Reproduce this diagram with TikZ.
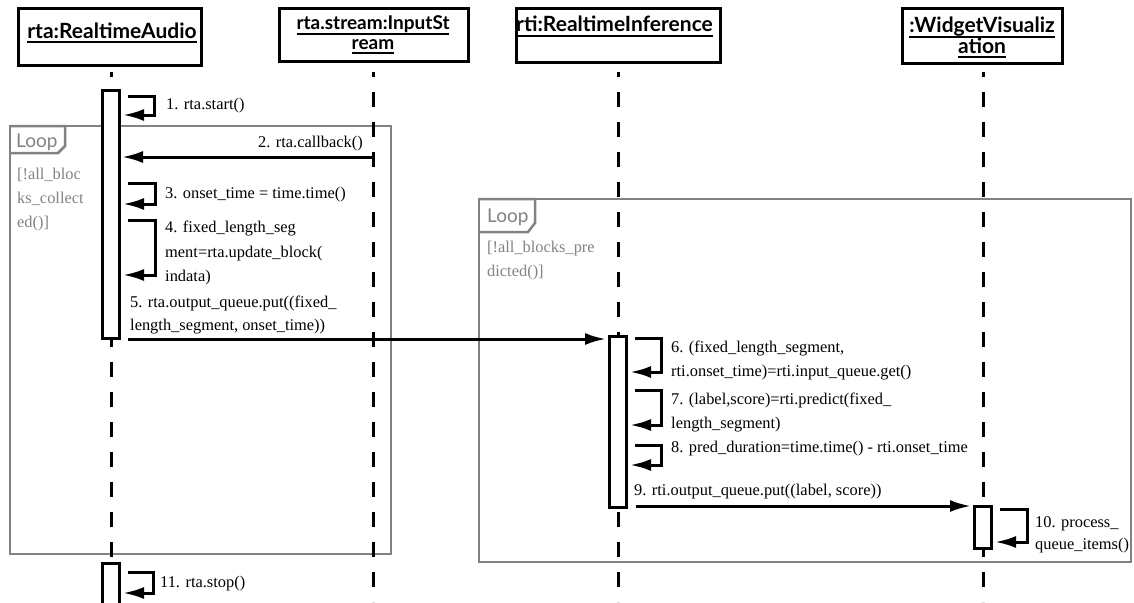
\documentclass[tikz,border=0pt]{standalone}
\usepackage{fontspec}
\setmainfont{Liberation Serif}
\newfontfamily\msgfont{Liberation Serif}
\newfontfamily\latofont{Lato}
\usetikzlibrary{arrows.meta}
\definecolor{framegray}{RGB}{130,130,130}
\newsavebox{\ulbox}
\newcommand{\hdrline}[1]{\sbox{\ulbox}{#1}\rlap{\rule[-5pt]{\wd\ulbox}{1.8pt}}\usebox{\ulbox}}
\begin{document}
\begin{tikzpicture}[x=1pt,y=-1pt,
  hdrbox/.style={draw,line width=3pt,fill=white,inner sep=0pt},
  hdrtxt/.style={font=\latofont\bfseries\fontsize{21}{24}\selectfont,anchor=base,inner sep=0pt},
  hdrsmall/.style={font=\latofont\bfseries\fontsize{19}{22}\selectfont},
  actbar/.style={draw,line width=3pt,fill=white,inner sep=0pt,minimum width=17pt},
  lifeline/.style={line width=3pt,dash pattern=on 15pt off 15pt,dash phase=10pt},
  msg/.style={line width=3pt,-{Latex[length=21pt,width=12pt]}},
  lbl/.style={font=\msgfont\fontsize{16.4}{24}\selectfont,anchor=base west,inner sep=0pt},
  frame/.style={draw=framegray,line width=2.5pt},
  guard/.style={font=\msgfont\fontsize{16.4}{24}\selectfont,text=framegray,anchor=base west,inner sep=0pt},
  looptxt/.style={font=\latofont\fontsize{19}{20}\selectfont,text=framegray,anchor=base west,inner sep=0pt}]
\useasboundingbox (0,0) rectangle (1134,602);

% loop frames
\draw[frame] (10,126) rectangle (391,554);
\draw[frame] (10,126) -- (65,126) -- (65,146) -- (58,153) -- (10,153);
\node[looptxt] (loopA) at (16,147) {Loop};
\node[guard] (gA1) at (17,179) {[!all\_bloc};
\node[guard] (gA2) at (17,203) {ks\_collect};
\node[guard] (gA3) at (17,227) {ed()]};

\draw[frame] (479,199) rectangle (1131,562);
\draw[frame] (479,199) -- (535,199) -- (535,223) -- (528,232) -- (479,232);
\node[looptxt] (loopB) at (487,222) {Loop};
\node[guard] (gB1) at (487,252) {[!all\_blocks\_pre};
\node[guard] (gB2) at (487,276) {dicted()]};

% lifelines
\coordinate (lA) at (111,72);  \coordinate (lAe) at (111,602);
\coordinate (lS) at (373,72);  \coordinate (lSe) at (373,602);
\coordinate (lI) at (618,72);  \coordinate (lIe) at (618,602);
\coordinate (lW) at (983,72);  \coordinate (lWe) at (983,602);
\draw[lifeline] (lA) -- (lAe);
\draw[lifeline] (lS) -- (lSe);
\draw[lifeline] (lI) -- (lIe);
\draw[lifeline] (lW) -- (lWe);

% object boxes
\node[hdrbox,minimum width=183pt,minimum height=57pt] (rta) at (110,37) {};
\node[hdrbox,minimum width=189pt,minimum height=53pt] (stream) at (374,35) {};
\node[hdrbox,minimum width=204pt,minimum height=54pt] (rti) at (618.5,35.5) {};
\node[hdrbox,minimum width=160pt,minimum height=55pt] (wv) at (982.5,36) {};
\node[hdrtxt] (rtaT) at (112,38) {\hdrline{rta:RealtimeAudio}};
\node[hdrtxt,hdrsmall] (streamT1) at (373,30) {\hdrline{rta.stream:InputSt}};
\node[hdrtxt,hdrsmall] (streamT2) at (373,49) {\hdrline{ream}};
\node[hdrtxt] (rtiT) at (614.5,32) {\hdrline{rti:RealtimeInference}};
\node[hdrtxt] (wvT1) at (982,33) {\hdrline{:WidgetVisualiz}};
\node[hdrtxt] (wvT2) at (982,53) {\hdrline{ation}};

% activation bars
\node[actbar,minimum height=248pt] (barA1) at (111,214.5) {};
\node[actbar,minimum height=60pt] (barA2) at (111,593.5) {};
\node[actbar,minimum height=171pt] (barI) at (618,422) {};
\node[actbar,minimum height=42pt] (barW) at (983,527.5) {};

% 1. start
\coordinate (m1a) at (128,96); \coordinate (m1b) at (154,96);
\coordinate (m1c) at (154,115); \coordinate (m1d) at (123,115);
\draw[msg] (m1a) -- (m1b) -- (m1c) -- (m1d);
\node[lbl] (t1) at (166,109) {1. rta.start()};

% 2. callback
\coordinate (m2a) at (373,157); \coordinate (m2b) at (122,157);
\draw[msg] (m2a) -- (m2b);
\node[lbl,anchor=base east] (t2) at (363,147) {2. rta.callback()};

% 3. onset time
\coordinate (m3a) at (128,183); \coordinate (m3b) at (155,183);
\coordinate (m3c) at (155,204); \coordinate (m3d) at (123,204);
\draw[msg] (m3a) -- (m3b) -- (m3c) -- (m3d);
\node[lbl] (t3) at (165,198) {3. onset\_time = time.time()};

% 4. update block
\coordinate (m4a) at (128,220); \coordinate (m4b) at (155,220);
\coordinate (m4c) at (155,275); \coordinate (m4d) at (123,275);
\draw[msg] (m4a) -- (m4b) -- (m4c) -- (m4d);
\node[lbl] (t4a) at (165,232) {4. fixed\_length\_seg};
\node[lbl] (t4b) at (165,257) {ment=rta.update\_block(};
\node[lbl] (t4c) at (165,281) {indata)};

% 5. output queue put
\coordinate (m5a) at (128,339); \coordinate (m5b) at (606,339);
\draw[msg] (m5a) -- (m5b);
\node[lbl] (t5a) at (130,307) {5. rta.output\_queue.put((fixed\_};
\node[lbl] (t5b) at (130,330) {length\_segment, onset\_time))};

% 6. input queue get
\coordinate (m6a) at (635,338); \coordinate (m6b) at (661,338);
\coordinate (m6c) at (661,372); \coordinate (m6d) at (630,372);
\draw[msg] (m6a) -- (m6b) -- (m6c) -- (m6d);
\node[lbl] (t6a) at (671,352) {6. (fixed\_length\_segment,};
\node[lbl] (t6b) at (671,376) {rti.onset\_time)=rti.input\_queue.get()};

% 7. predict
\coordinate (m7a) at (635,390); \coordinate (m7b) at (661,390);
\coordinate (m7c) at (661,425); \coordinate (m7d) at (630,425);
\draw[msg] (m7a) -- (m7b) -- (m7c) -- (m7d);
\node[lbl] (t7a) at (671,404) {7. (label,score)=rti.predict(fixed\_};
\node[lbl] (t7b) at (671,428) {length\_segment)};

% 8. duration
\coordinate (m8a) at (635,445); \coordinate (m8b) at (661,445);
\coordinate (m8c) at (661,465); \coordinate (m8d) at (630,465);
\draw[msg] (m8a) -- (m8b) -- (m8c) -- (m8d);
\node[lbl] (t8) at (671,452) {8. pred\_duration=time.time() - rti.onset\_time};

% 9. output queue put
\coordinate (m9a) at (636,506); \coordinate (m9b) at (971,506);
\draw[msg] (m9a) -- (m9b);
\node[lbl] (t9) at (634,495) {9. rti.output\_queue.put((label, score))};

% 10. process items
\coordinate (m10a) at (1000,509); \coordinate (m10b) at (1027,509);
\coordinate (m10c) at (1027,542); \coordinate (m10d) at (995,542);
\draw[msg] (m10a) -- (m10b) -- (m10c) -- (m10d);
\node[lbl] (t10a) at (1035,527) {10. process\_};
\node[lbl] (t10b) at (1035,549) {queue\_items()};

% 11. stop
\coordinate (m11a) at (128,572); \coordinate (m11b) at (153,572);
\coordinate (m11c) at (153,593); \coordinate (m11d) at (123,593);
\draw[msg] (m11a) -- (m11b) -- (m11c) -- (m11d);
\node[lbl] (t11) at (160,587) {11. rta.stop()};
\end{tikzpicture}
\end{document}
